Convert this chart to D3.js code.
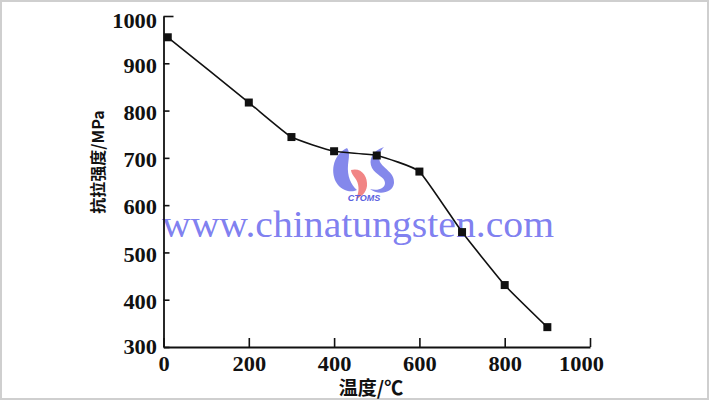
<!DOCTYPE html>
<html><head><meta charset="utf-8">
<script src="https://cdn.jsdelivr.net/npm/d3@7/dist/d3.min.js"></script>
<style>
html,body{margin:0;padding:0;background:#fff;}
svg{display:block;}
</style></head>
<body>
<script>
const temps = [10, 200, 300, 400, 500, 600, 700, 800, 900];
const strength = [955, 817, 744, 714, 705, 671, 543, 431, 342];
const xTicks = [0, 200, 400, 600, 800, 1000];
const yTicks = [300, 400, 500, 600, 700, 800, 900, 1000];
const xLabel = "温度/℃";
const yLabel = "抗拉强度/MPa";
const watermark = "www.chinatungsten.com";

const W = 710, H = 401;
const svg = d3.select("body").append("svg").attr("width", W).attr("height", H);

svg.append("rect").attr("x", 1).attr("y", 1).attr("width", W - 3).attr("height", H - 3)
  .attr("fill", "#fff").attr("stroke", "#cfcfcf").attr("stroke-width", 2);

const x = d3.scaleLinear().domain([0, 1000]).range([163.5, 590]);
const y = d3.scaleLinear().domain([300, 1000]).range([347, 16]);

const numFont = "'Liberation Serif','Times New Roman',serif";

// watermark (behind)
const wm = svg.append("g");
wm.append("text").attr("x", 162).attr("y", 237)
  .attr("font-family", numFont).attr("font-size", 37)
  .attr("textLength", 392).attr("lengthAdjust", "spacingAndGlyphs")
  .attr("fill", "#7070ee").attr("fill-opacity", 0.9).text(watermark);
// CTOMS logo
wm.append("path").attr("d", "M347,148 C334,154 330,170 336,182 C341,191 351,193 357,190 C351,185 347,176 348,165 C349,157 350,152 347,148 Z")
  .attr("fill", "#6f73e8").attr("fill-opacity", 0.85);
wm.append("path").attr("d", "M351,170 C361,167 368,176 367,186 C366,193 361,197 356,199 C360,191 359,183 355,178 C353,175 351,173 351,170 Z")
  .attr("fill", "#f07878").attr("fill-opacity", 0.9);
wm.append("path").attr("d", "M384,147 C372,151 368,160 372,168 C376,175 385,177 385,183 C385,189 377,191 370,189 C377,195 393,194 394,183 C395,173 384,169 380,162 C378,156 380,151 384,147 Z")
  .attr("fill", "#6f73e8").attr("fill-opacity", 0.85);
wm.append("text").attr("x", 364).attr("y", 201).attr("text-anchor", "middle")
  .attr("font-family", "'Liberation Sans',Arial,sans-serif").attr("font-size", 9)
  .attr("font-weight", "bold").attr("font-style", "italic")
  .attr("fill", "#5a60e0").text("CTOMS");

// axes
const xAxis = d3.axisBottom(x).tickValues(xTicks).tickSizeInner(-9).tickSizeOuter(0).tickFormat(d3.format("d"));
const gx = svg.append("g").attr("transform", `translate(0,${y(300)})`).call(xAxis);
gx.select(".domain").attr("stroke", "#111").attr("stroke-width", 1.8);
gx.selectAll(".tick line").attr("stroke", "#111").attr("stroke-width", 1.6);
gx.selectAll(".tick text").attr("font-family", numFont).attr("font-size", 20)
  .attr("font-weight", "bold").attr("fill", "#111").attr("y", 0).attr("dy", "0")
  .attr("transform", (d, i) => `translate(${d === 1000 ? -9 : 0},24) scale(1.12,1)`);

const yAxis = d3.axisLeft(y).tickValues(yTicks).tickSizeInner(-6).tickSizeOuter(0).tickFormat(d3.format("d"));
const gy = svg.append("g").attr("transform", `translate(${x(0)},0)`).call(yAxis);
gy.select(".domain").attr("stroke", "#111").attr("stroke-width", 1.8);
gy.selectAll(".tick line").attr("stroke", "#111").attr("stroke-width", 1.6)
  .attr("x2", d => d === 1000 ? 10 : 6);
gy.selectAll(".tick text").attr("font-family", numFont).attr("font-size", 20)
  .attr("font-weight", "bold").attr("fill", "#111").attr("x", 0).attr("dy", "0.34em")
  .attr("transform", d => `translate(-6.5,${d === 1000 ? 5 : (d === 300 ? 0 : 2)}) scale(1.12,1)`);

// axis titles
svg.append("text").attr("x", 371).attr("y", 395).attr("text-anchor", "middle")
  .attr("font-family", "'Noto Sans CJK SC',sans-serif").attr("font-size", 19)
  .attr("font-weight", "bold").attr("fill", "#111").text(xLabel);
svg.append("text").attr("transform", "translate(104,162) rotate(-90)").attr("text-anchor", "middle")
  .attr("font-family", "'Noto Sans CJK SC',sans-serif").attr("font-size", 16)
  .attr("font-weight", "bold").attr("fill", "#111").text(yLabel);

// line
const pts = temps.map((t, i) => [t, strength[i]]);
const line = d3.line().x(d => x(d[0])).y(d => y(d[1])).curve(d3.curveCardinal.tension(0.6));
svg.append("path").datum(pts).attr("d", line).attr("fill", "none")
  .attr("stroke", "#111").attr("stroke-width", 1.6);

const s = 8;
svg.append("g").selectAll("rect").data(pts).join("rect")
  .attr("x", d => x(d[0]) - s / 2).attr("y", d => y(d[1]) - s / 2)
  .attr("width", s).attr("height", s).attr("fill", "#111");
</script>
</body></html>
